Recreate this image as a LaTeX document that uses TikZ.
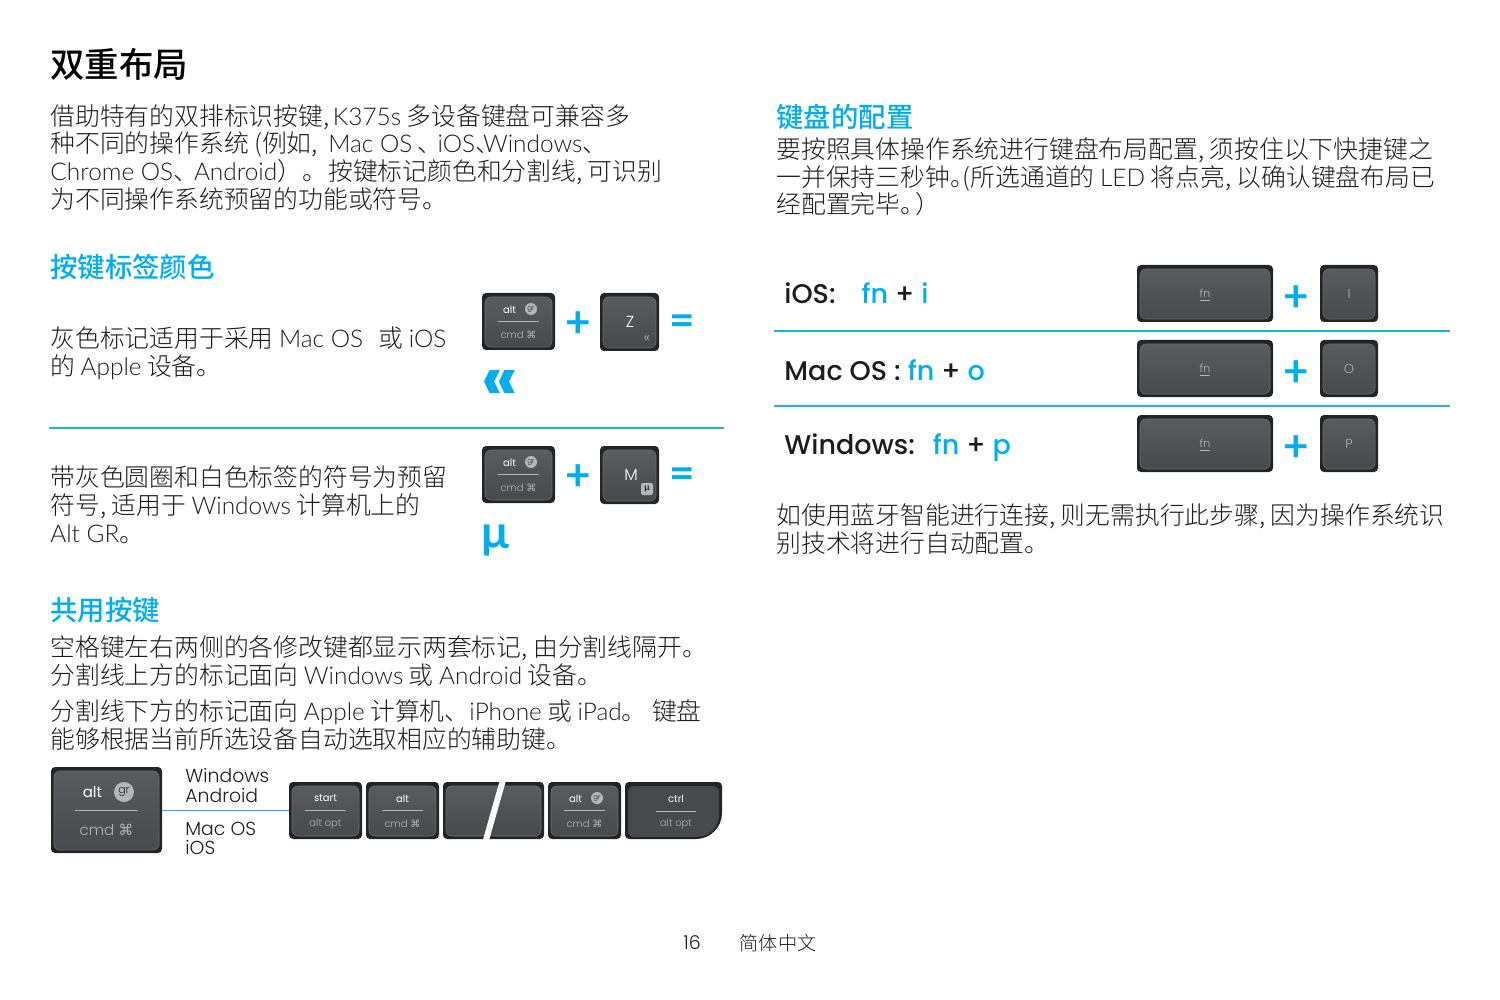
\documentclass[tikz,border=0pt]{standalone}
\usepackage{fontspec}
\usepackage{xcolor}
\setmainfont{Noto Sans CJK SC Light}[BoldFont={Noto Sans CJK SC Medium}]
\newfontfamily\lat{Poppins Light}
\newfontfamily\latreg{Poppins}
\newfontfamily\latmed{Poppins Medium}
\newfontfamily\bodylat{Lato Light}
\newfontfamily\grk{Lato Bold}
\newfontfamily\symf{DejaVu Sans}
\newcommand{\en}[1]{{\bodylat\fs{12.2}#1}}
\newcommand{\fs}[1]{\fontsize{#1}{#1}\selectfont}
\definecolor{kblue}{HTML}{00AEEF}
\definecolor{kline}{HTML}{1CB2E6}
\definecolor{ink}{HTML}{1C1C1C}
\definecolor{kdark}{HTML}{222426}
\definecolor{kface}{HTML}{595B5E}
\definecolor{kfacelow}{HTML}{47494C}
\definecolor{kedge}{HTML}{6C6E71}
\definecolor{klow}{HTML}{B4B6B8}
\tikzset{
  txt/.style={anchor=west, inner sep=0pt, text height=11pt, text depth=2pt, text=ink, font=\fs{12.4}},
  head/.style={anchor=west, inner sep=0pt, text height=12pt, text depth=2pt, text=kblue, font=\fs{13.7}\bfseries},
  keyouter/.style={fill=kdark, rounded corners=2pt, inner sep=0pt},
  keyface/.style={draw=kedge, line width=0.3pt, top color=kface, bottom color=kfacelow, rounded corners=3pt, inner sep=0pt},
  keytop/.style={text=white, inner sep=0pt},
  keylow/.style={text=klow, inner sep=0pt},
  keyrule/.style={draw=klow, line width=0.4pt},
  badge/.style={circle, fill=klow, inner sep=0pt, text=kdark},
  sign/.style={inner sep=0pt, text=kblue, font=\grk\fs{22}},
  combo/.style={anchor=west, inner sep=0pt, text height=13pt, text depth=4pt, text=ink, font=\latmed\fs{13.5}},
  blueline/.style={draw=kline, line width=0.9pt},
}
% name, centre x, centre y, width, height
\newcommand{\keycap}[5]{
  \node[keyouter, minimum width=#4*0.5pt, minimum height=#5*0.5pt] (#1) at (#2,#3) {};
  \node[keyface, minimum width=#4*0.5pt-3pt, minimum height=#5*0.5pt-3.5pt] (#1-f) at (#2,#3+.5) {};
}
% name, centre x, centre y, width, height, upper text, lower text, size
\newcommand{\dualkey}[8]{
  \keycap{#1}{#2}{#3}{#4}{#5}
  \node[keytop, font=\latreg\fs{#8}] (#1-t) at (#2,{#3-.21*#5}) {#6};
  \node[keylow, font=\lat\fs{#8}] (#1-b) at (#2,{#3+.23*#5}) {#7};
  \draw[keyrule] ({#2-.28*#4},#3) -- ({#2+.28*#4},#3);
}
\newcommand{\cmdsym}{{\symf ⌘}}
\begin{document}
\begin{tikzpicture}[x=0.5pt,y=-0.5pt]
  \useasboundingbox (0,0) rectangle (1500,1000);

  % left column
  \node[txt, font=\fs{17.2}\bfseries, text=black] (title) at (50,69) {双重布局};
  \node[txt] (p1) at (50,117) {借助特有的双排标识按键,\kern-1pt{} \en{K375s} 多设备键盘可兼容多};
  \node[txt] (p2) at (50,144) {种不同的操作系统 (例如,\kern2.5pt{} \en{Mac OS} 、\kern-2.5pt\en{iOS}、\kern-8.5pt\en{Windows}、};
  \node[txt] (p3) at (50,172) {\en{Chrome OS}、\kern-2pt\en{Android}）。 \kern-2pt按键标记颜色和分割线, 可识别};
  \node[txt] (p4) at (50,200) {为不同操作系统预留的功能或符号。};

  \node[head] (h1) at (50,268) {按键标签颜色};
  \node[txt] (g1) at (50,339) {灰色标记适用于采用 \en{Mac OS}\kern5pt{} 或 \en{iOS}};
  \node[txt] (g2) at (50,367) {的 \en{Apple} 设备。};

  \dualkey{alta}{518.5}{321.5}{73}{57}{alt\kern9pt}{cmd \cmdsym}{5}
  \node[badge, minimum size=6pt, font=\lat\fs{3.5}] (grA) at (531,309) {gr};
  \node[sign] (plusA) at (578,325) {+};
  \keycap{keyz}{629.5}{322}{59}{58}
  \node[keytop, font=\lat\fs{8}] (keyz-t) at (630,322) {Z};
  \node[keylow, font=\lat\fs{7}] (keyz-l) at (647,339) {«};
  \node[sign] (eqA) at (682,325) {=};
  \node[inner sep=0pt, text=kblue, font=\latreg\bfseries\fs{33}] (resA) at (500,386) {«};

  \coordinate (ruleL1) at (49,428);
  \coordinate (ruleL2) at (724,428);
  \draw[blueline] (ruleL1) -- (ruleL2);

  \node[txt] (w1) at (50,477) {带灰色圆圈和白色标签的符号为预留};
  \node[txt] (w2) at (50,505) {符号, 适用于 \en{Windows} 计算机上的};
  \node[txt] (w3) at (50,533) {\en{Alt GR}。};

  \dualkey{altb}{518.5}{474.5}{73}{57}{alt\kern9pt}{cmd \cmdsym}{5}
  \node[badge, minimum size=6pt, font=\lat\fs{3.5}] (grB) at (531,462) {gr};
  \node[sign] (plusB) at (578,478) {+};
  \keycap{keym}{629.5}{475}{59}{58}
  \node[keytop, font=\lat\fs{8}] (keym-t) at (631,475) {M};
  \node[badge, rectangle, rounded corners=1pt, minimum size=6pt, font=\grk\fs{4.5}] (keym-l) at (647,489) {μ};
  \node[sign] (eqB) at (682,478) {=};
  \node[inner sep=0pt, text=kblue, font=\grk\fs{23}] (resB) at (495,541) {μ};

  \node[head] (h2) at (50,610) {共用按键};
  \node[txt] (s1) at (50,647) {空格键左右两侧的各修改键都显示两套标记, 由分割线隔开。};
  \node[txt] (s2) at (50,675) {分割线上方的标记面向 \en{Windows} 或 \en{Android} 设备。};
  \node[txt] (s3) at (50,711) {分割线下方的标记面向 \en{Apple} 计算机、\en{iPhone} 或 \en{iPad}。 键盘};
  \node[txt] (s4) at (50,739) {能够根据当前所选设备自动选取相应的辅助键。};

  % keyboard strip
  \dualkey{bigalt}{106.5}{810}{111}{86}{alt\kern14pt}{cmd \cmdsym}{7.5}
  \node[badge, minimum size=10pt, font=\lat\fs{5.5}] (grC) at (124,792) {gr};
  \dualkey{start}{325.5}{810.5}{73}{57}{start}{alt opt}{5}
  \dualkey{altc}{402.5}{810.5}{73}{57}{alt}{cmd \cmdsym}{5}
  \keycap{space}{493.5}{810.5}{101}{57}
  \coordinate (cutT) at (503,780);
  \coordinate (cutB) at (486,840);
  \draw[white, line width=3pt] (cutT) -- (cutB);
  \dualkey{altd}{584.5}{810.5}{73}{57}{alt\kern9pt}{cmd \cmdsym}{5}
  \node[badge, minimum size=6pt, font=\lat\fs{3.5}] (grD) at (597,798) {gr};
  \fill[kdark, rounded corners=2pt] (625,782) -- (722,782) [rounded corners=13pt] -- (722,839) [rounded corners=2pt] -- (625,839) -- cycle;
  \fill[kfacelow, rounded corners=3pt] (628,786) -- (719,786) [rounded corners=11pt] -- (719,837) [rounded corners=3pt] -- (628,837) -- cycle;
  \node[keytop, font=\latreg\fs{5}] (ctrl-t) at (676,799) {ctrl};
  \node[keylow, font=\lat\fs{5}] (ctrl-b) at (676,824) {alt opt};
  \draw[keyrule] (656,811) -- (696,811);

  \draw[draw=kline, line width=0.6pt] (bigalt.east |- start.west) -- (start.west);
  \node[txt, text height=7pt, font=\lat\fs{9.4}] (os1) at (185,777) {Windows};
  \node[txt, text height=7pt, font=\lat\fs{9.4}] (os2) at (185,797) {Android};
  \node[txt, text height=7pt, font=\lat\fs{9.4}] (os3) at (185,830) {Mac OS};
  \node[txt, text height=7pt, font=\lat\fs{9.4}] (os4) at (185,849) {iOS};

  % right column
  \node[head] (h3) at (776,118) {键盘的配置};
  \node[txt] (c1) at (776,150) {要按照具体操作系统进行键盘布局配置, 须按住以下快捷键之};
  \node[txt] (c2) at (776,178) {一并保持三秒钟。\kern-6pt(所选通道的 \en{LED} 将点亮, 以确认键盘布局已};
  \node[txt] (c3) at (776,205) {经配置完毕。\kern-5pt）};

  \node[combo] (ios) at (784,295) {iOS:\hspace{13pt}\textcolor{kblue}{fn} + \textcolor{kblue}{i}};
  \keycap{fnA}{1205}{293.5}{136}{57}
  \node[keylow, font=\lat\fs{5.5}] (fnA-t) at (1205,295) {\underline{fn}};
  \node[sign] (plusC) at (1296,299) {+};
  \keycap{keyi}{1349}{293.5}{58}{57}
  \node[keylow, font=\lat\fs{6.5}] (keyi-t) at (1349,294) {I};

  \coordinate (ruleA1) at (774,331);
  \coordinate (ruleA2) at (1450,331);
  \draw[blueline] (ruleA1) -- (ruleA2);

  \node[combo] (mac) at (784,371) {Mac OS : \textcolor{kblue}{fn} + \textcolor{kblue}{o}};
  \keycap{fnB}{1205}{368.5}{136}{57}
  \node[keylow, font=\lat\fs{5.5}] (fnB-t) at (1205,370) {\underline{fn}};
  \node[sign] (plusD) at (1296,374) {+};
  \keycap{keyo}{1349}{368.5}{58}{57}
  \node[keylow, font=\lat\fs{6.5}] (keyo-t) at (1349,369) {O};

  \coordinate (ruleB1) at (774,406);
  \coordinate (ruleB2) at (1450,406);
  \draw[blueline] (ruleB1) -- (ruleB2);

  \node[combo] (win) at (784,445) {Windows:\hspace{9pt}\textcolor{kblue}{fn} + \textcolor{kblue}{p}};
  \keycap{fnC}{1205}{443.5}{136}{57}
  \node[keylow, font=\lat\fs{5.5}] (fnC-t) at (1205,445) {\underline{fn}};
  \node[sign] (plusE) at (1296,449) {+};
  \keycap{keyp}{1349}{443.5}{58}{57}
  \node[keylow, font=\lat\fs{6.5}] (keyp-t) at (1349,444) {P};

  \node[txt] (n1) at (776,515) {如使用蓝牙智能进行连接, 则无需执行此步骤, 因为操作系统识};
  \node[txt] (n2) at (776,543) {别技术将进行自动配置。};

  % footer
  \node[inner sep=0pt, text=ink, font=\lat\fs{9.5}] (page) at (692,943) {16};
  \node[inner sep=0pt, text=ink, font=\fs{9.6}] (lang) at (778,943) {简体中文};
\end{tikzpicture}
\end{document}
